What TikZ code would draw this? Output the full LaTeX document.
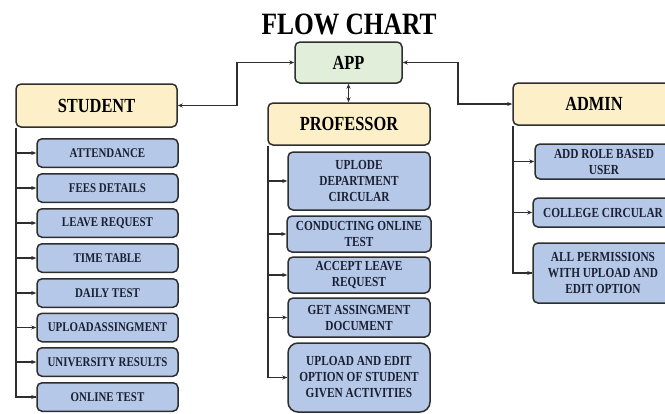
\documentclass[tikz,border=0pt]{standalone}
\usepackage{fontspec}
\setmainfont{Liberation Serif}[FakeStretch=0.82]
\usetikzlibrary{arrows.meta}
\definecolor{hdrfill}{HTML}{FDF0C9}
\definecolor{appfill}{HTML}{E1EFDA}
\definecolor{itemfill}{HTML}{B6C8E7}
\definecolor{edge}{HTML}{2E2E2E}
\definecolor{itemtext}{HTML}{1A2033}
\tikzset{
  hdr/.style={draw=edge, line width=1.5pt, rounded corners=5pt, fill=hdrfill,
    inner sep=0pt, text=black, font=\fontsize{20}{24}\selectfont\bfseries},
  itembox/.style={draw=edge, line width=1.5pt, rounded corners=5pt, fill=itemfill,
    inner sep=0pt, align=center, text=itemtext, font=\fontsize{13.3}{16}\selectfont\bfseries},
  pitem/.style={itembox, font=\fontsize{13.8}{16}\selectfont\bfseries},
  conn/.style={draw=edge, line width=1.3pt},
  arr/.style={conn, -{Stealth[length=5pt,width=4pt]}},
  darr/.style={conn, {Stealth[length=5pt,width=4pt]}-{Stealth[length=5pt,width=4pt]}}
}
\begin{document}
\begin{tikzpicture}[x=1pt,y=-1pt]
\useasboundingbox (0,0) rectangle (665,413);
\clip (0,0) rectangle (665,413);
% title
\node[font=\fontsize{31}{34}\selectfont\bfseries, inner sep=0pt] (title) at (349,24) {FLOW CHART};
% headers
\node[hdr, fill=appfill, minimum width=107pt, minimum height=41pt] (app) at (348.5,62.5) {APP};
\node[hdr, minimum width=161pt, minimum height=43pt] (student) at (96.5,105.5) {STUDENT};
\node[hdr, minimum width=162pt, minimum height=42pt] (prof) at (349,124) {PROFESSOR};
\node[hdr, minimum width=162pt, minimum height=42pt] (admin) at (594,104) {ADMIN};
% student items
\foreach \n/\y/\t in {s1/153/ATTENDANCE, s2/188/FEES DETAILS, s3/223/LEAVE REQUEST,
  s4/258/TIME TABLE, s5/293/DAILY TEST, s6/327.5/UPLOADASSINGMENT,
  s7/362/UNIVERSITY RESULTS, s8/397/ONLINE TEST}
  \node[itembox, minimum width=141pt, minimum height=28.5pt] (\n) at (107.5,\y) {\t};
% professor items
\node[pitem, minimum width=142pt, minimum height=58pt] (p1) at (359,181) {UPLODE\\DEPARTMENT\\CIRCULAR};
\node[pitem, minimum width=144pt, minimum height=36pt] (p2) at (359,234) {CONDUCTING ONLINE\\TEST};
\node[pitem, minimum width=142pt, minimum height=36pt] (p3) at (359,275) {ACCEPT LEAVE\\REQUEST};
\node[pitem, minimum width=142pt, minimum height=39pt] (p4) at (359,317.5) {GET ASSINGMENT\\DOCUMENT};
\node[pitem, rounded corners=10pt, minimum width=142pt, minimum height=69pt] (p5) at (359,377.5) {UPLOAD AND EDIT\\OPTION OF STUDENT\\GIVEN ACTIVITIES};
% admin items
\node[pitem, minimum width=138pt, minimum height=35pt] (a1) at (604,161.5) {ADD ROLE BASED\\USER};
\node[pitem, minimum width=140pt, minimum height=29pt] (a2) at (603,212.5) {COLLEGE CIRCULAR};
\node[pitem, minimum width=140pt, minimum height=60pt] (a3) at (603,273) {ALL PERMISSIONS\\WITH UPLOAD AND\\EDIT OPTION};
% top connectors
\coordinate (jl) at (237,0);
\coordinate (jr) at (458,0);
\draw[darr] (student.east) -- (student.east -| jl) |- (app.west);
\draw[darr] (admin.west) -- (admin.west -| jr) |- (app.east);
\draw[darr] (app.south) -- (app.south |- prof.north);
% student tree
\coordinate (sl) at ([xshift=0.75pt]student.south west);
\draw[conn] (sl) |- (s8.west);
\foreach \n in {s1,s2,s3,s4,s5,s6,s7,s8}
  \draw[arr] (sl |- \n.west) -- (\n.west);
% professor tree
\coordinate (pl) at ([xshift=0.75pt]prof.south west);
\draw[conn] (pl) |- (p5.west);
\foreach \n in {p1,p2,p3,p4,p5}
  \draw[arr] (pl |- \n.west) -- (\n.west);
% admin tree
\coordinate (al) at ([xshift=0.75pt]admin.south west);
\draw[conn] (al) |- (a3.west);
\foreach \n in {a1,a2,a3}
  \draw[arr] (al |- \n.west) -- (\n.west);
\end{tikzpicture}
\end{document}
